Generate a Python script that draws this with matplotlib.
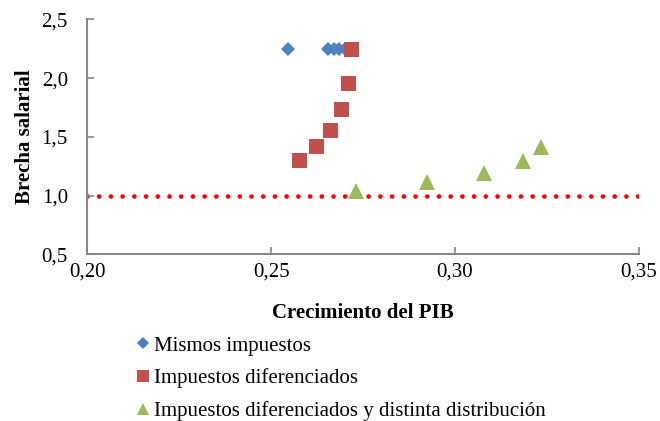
import matplotlib
matplotlib.use("Agg")
import matplotlib.pyplot as plt
from matplotlib.ticker import FuncFormatter, MultipleLocator

plt.rcParams['font.family'] = ['Liberation Serif', 'DejaVu Serif']

# Data
mismos_x = [0.2545, 0.2656, 0.2671, 0.2685, 0.2700]
mismos_y = [2.25, 2.25, 2.25, 2.25, 2.25]

dif_x = [0.2577, 0.2623, 0.2660, 0.2690, 0.2710, 0.2718]
dif_y = [1.30, 1.42, 1.56, 1.74, 1.96, 2.25]

dist_x = [0.2730, 0.2925, 0.3079, 0.3185, 0.3235]
dist_y = [1.04, 1.114, 1.196, 1.296, 1.416]

ref_x = [0.20, 0.35]
ref_y = [1.0, 1.0]

labels = ["Mismos impuestos", "Impuestos diferenciados",
          "Impuestos diferenciados y distinta distribución"]
xlabel = "Crecimiento del PIB"
ylabel = "Brecha salarial"

fig = plt.figure(figsize=(6.6, 4.21), dpi=100)
ax = fig.add_axes([87.3/660, 1-254.3/421, (638.6-87.3)/660, (254.3-19.3)/421])

ax.plot(ref_x, ref_y, color='#FF0000', linewidth=3.4,
        linestyle=(0, (0.001, 2.48)), dash_capstyle='round', zorder=1)

h1, = ax.plot(mismos_x, mismos_y, linestyle='none', marker='D', ms=7.4,
              color='#4F81BD', markeredgewidth=0, zorder=3)
h2, = ax.plot(dif_x, dif_y, linestyle='none', marker='s', ms=10.8,
              color='#C0504D', markeredgewidth=0, zorder=4)
h3, = ax.plot(dist_x, dist_y, linestyle='none', marker='^', ms=11,
              color='#9BBB59', markeredgewidth=0, zorder=5)

ax.set_xlim(0.20, 0.35)
ax.set_ylim(0.5, 2.5)
ax.xaxis.set_major_locator(MultipleLocator(0.05))
ax.yaxis.set_major_locator(MultipleLocator(0.5))
ax.xaxis.set_major_formatter(FuncFormatter(lambda v, p: f"{v:.2f}".replace('.', ',')))
ax.yaxis.set_major_formatter(FuncFormatter(lambda v, p: f"{v:.1f}".replace('.', ',')))

for s in ['top', 'right']:
    ax.spines[s].set_visible(False)
for s in ['left', 'bottom']:
    ax.spines[s].set_color('#868686')
    ax.spines[s].set_linewidth(1.5)
ax.tick_params(direction='in', length=5, width=1.2, color='#868686',
               labelsize=15, labelcolor='black')
ax.tick_params(axis='y', pad=14)
ax.tick_params(axis='x', pad=6)

ax.set_xlabel(xlabel, fontsize=15, fontweight='bold', labelpad=15.5)
ax.set_ylabel(ylabel, fontsize=15, fontweight='bold', labelpad=4.5)

leg = fig.legend([h1, h2, h3], labels, loc='upper left',
                 bbox_to_anchor=(136/660, 1-336/421), frameon=False,
                 fontsize=15, handlelength=0.7, handletextpad=0.15,
                 labelspacing=0.62, borderpad=0, borderaxespad=0,
                 markerscale=0.8)

fig.savefig('out.png', dpi=100)
